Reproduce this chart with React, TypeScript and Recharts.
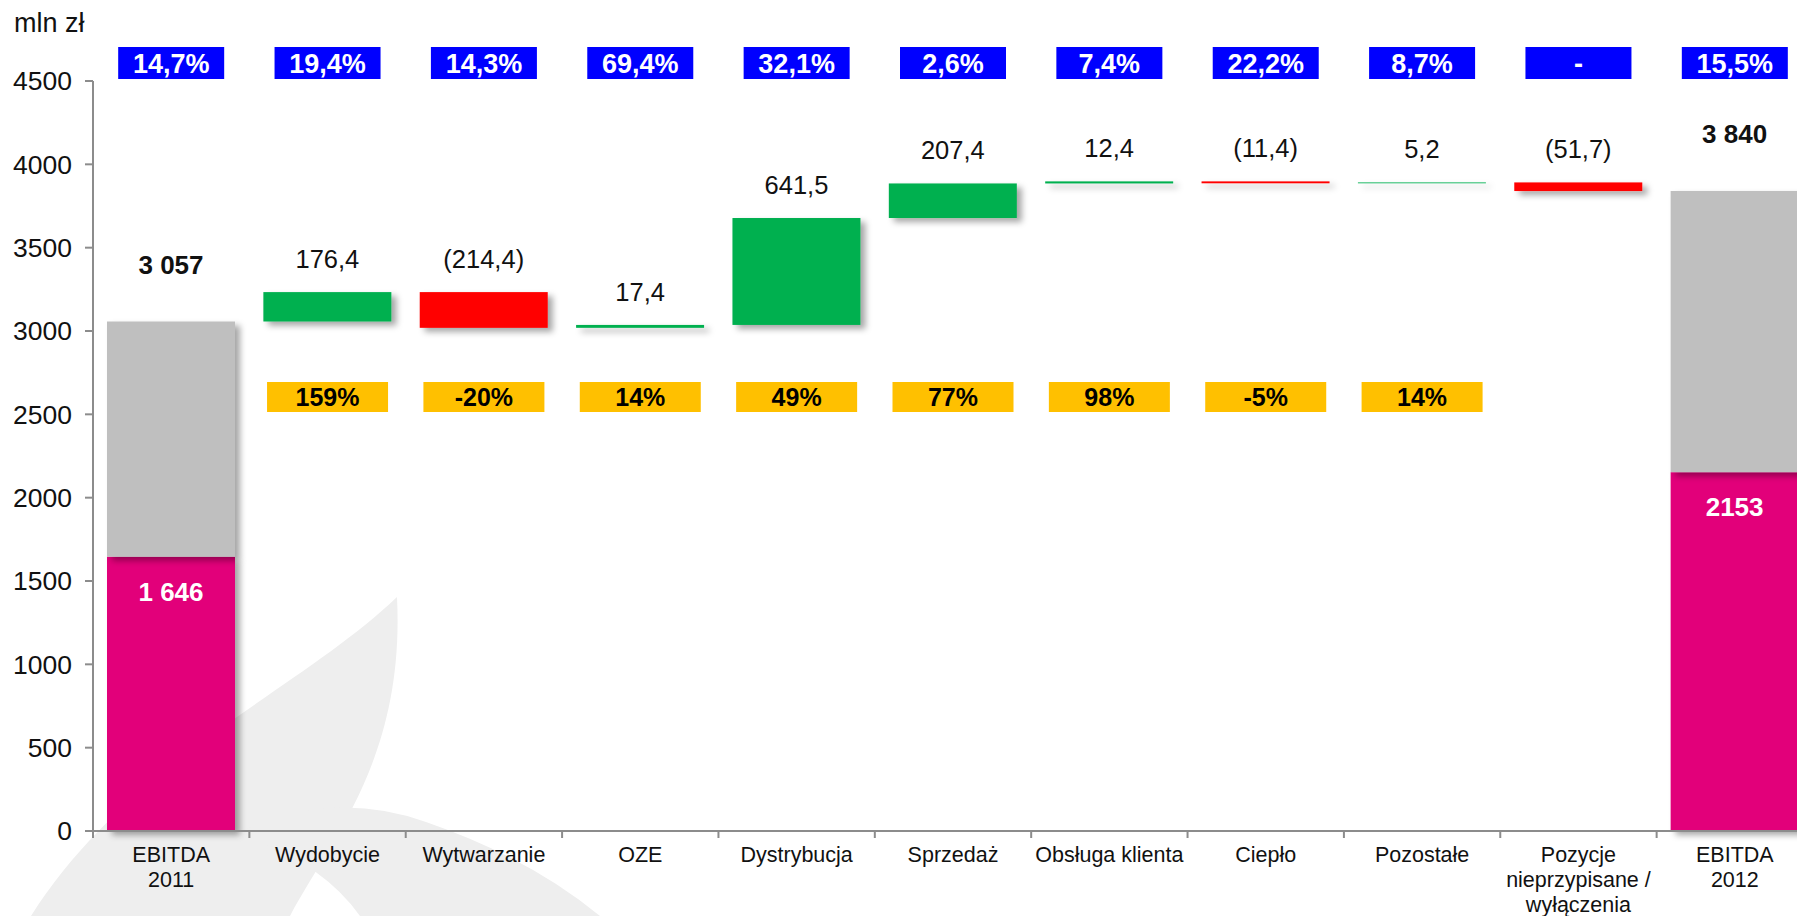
import React from 'react';
import { BarChart, Bar, XAxis, YAxis, ReferenceDot, LabelList } from 'recharts';

// categories and values
const categories = [
  'EBITDA\n2011',
  'Wydobycie',
  'Wytwarzanie',
  'OZE',
  'Dystrybucja',
  'Sprzedaż',
  'Obsługa klienta',
  'Ciepło',
  'Pozostałe',
  'Pozycje\nnieprzypisane /\nwyłączenia',
  'EBITDA\n2012',
];
const totals = [3057, null, null, null, null, null, null, null, null, null, 3840];
const totalLabels = ['3 057', null, null, null, null, null, null, null, null, null, '3 840'];
const pinkPart = [1646, null, null, null, null, null, null, null, null, null, 2153];
const pinkLabels = ['1 646', null, null, null, null, null, null, null, null, null, '2153'];
const deltas = [null, 176.4, -214.4, 17.4, 641.5, 207.4, 12.4, -11.4, 5.2, -51.7, null];
const marginLabels = ['14,7%', '19,4%', '14,3%', '69,4%', '32,1%', '2,6%', '7,4%', '22,2%', '8,7%', '-', '15,5%'];
const dynamicsLabels = [null, '159%', '-20%', '14%', '49%', '77%', '98%', '-5%', '14%', null, null];
const yTicks = [0, 500, 1000, 1500, 2000, 2500, 3000, 3500, 4000, 4500];

const FONT = '"Liberation Sans", Arial, sans-serif';
const AXIS = '#8c8c8c';
const GREEN = '#00B050';
const RED = '#FF0000';
const GREY = '#BFBFBF';
const PINK = '#E2007A';
const BLUE = '#0000FF';
const YELLOW = '#FFC000';

// rows of the waterfall: invisible base + visible parts
let running = 0;
const rows = categories.map((name, i) => {
  if (totals[i] != null) {
    running = totals[i] as number;
    const pink = pinkPart[i] as number;
    return { name, base: 0, pink, grey: running - pink, delta: 0, color: GREY };
  }
  const d = deltas[i] as number;
  const start = running;
  running = start + d;
  return {
    name,
    base: Math.min(start, running),
    pink: 0,
    grey: 0,
    delta: Math.abs(d),
    color: d >= 0 ? GREEN : RED,
  };
});

const fmtDelta = (v: number) => {
  const s = Math.abs(v).toFixed(1).replace('.', ',');
  return v < 0 ? `(${s})` : s;
};

const ShadowRect = (p: any) => {
  if (!p.height || p.height <= 0) return null;
  return (
    <rect
      x={p.x}
      y={p.y}
      width={p.width}
      height={p.height}
      fill={p.fillColor ?? p.payload.color}
      filter="url(#barShadow)"
    />
  );
};

const CategoryTick = (props: any) => {
  const { x, y, payload } = props;
  const half = payload.offset || 78;
  const lines = String(payload.value).split('\n');
  return (
    <g>
      <line x1={x - half} x2={x - half} y1={y} y2={y + 7} stroke={AXIS} strokeWidth={2} />
      <text x={x} y={y + 31} textAnchor="middle" fontSize={21.5} fontFamily={FONT} fill="#111">
        {lines.map((l, i) => (
          <tspan key={i} x={x} dy={i === 0 ? 0 : 25}>
            {l}
          </tspan>
        ))}
      </text>
    </g>
  );
};

const boxShape = (text: string, w: number, h: number, bg: string, fg: string, size: number) => (p: any) => (
  <g>
    <rect x={p.cx - w / 2} y={p.cy - h / 2} width={w} height={h} fill={bg} />
    <text
      x={p.cx}
      y={p.cy + size * 0.36}
      textAnchor="middle"
      fontSize={size}
      fontWeight="bold"
      fontFamily={FONT}
      fill={fg}
    >
      {text}
    </text>
  </g>
);

const BLUE_ROW = 4608;
const YELLOW_ROW = 2604;

export default function App() {
  return (
    <div
      style={{
        position: 'absolute',
        left: 0,
        top: 0,
        width: 1797,
        height: 916,
        overflow: 'hidden',
        background: '#fff',
      }}
    >
      <svg width={1797} height={916} style={{ position: 'absolute', left: 0, top: 0 }}>
        <defs>
          <filter id="barShadow" filterUnits="userSpaceOnUse" x={0} y={0} width={1900} height={916}>
            <feDropShadow dx={5} dy={4} stdDeviation={3} floodColor="#000" floodOpacity={0.35} />
          </filter>
        </defs>
        <path d="M 397 597 C 300 690, 130 760, 31 916 L 290 916 C 330 840, 405 760, 397 597 Z" fill="#eeeeee" />
        <path d="M 236 834 Q 330 788 426 822 Q 530 858 600 916 L 360 916 Q 320 860 236 834 Z" fill="#eeeeee" />
        <text x={14} y={32} fontSize={27} fontFamily={FONT} fill="#111">
          mln zł
        </text>
      </svg>
      <div style={{ position: 'absolute', left: 0, top: 0 }}>
        <BarChart
          width={1820}
          height={916}
          data={rows}
          margin={{ top: 81, right: 7, bottom: 25, left: 0 }}
          style={{ fontFamily: FONT }}
        >
          <XAxis
            dataKey="name"
            interval={0}
            tickLine={false}
            tickSize={0}
            tickMargin={0}
            height={60}
            axisLine={{ stroke: AXIS, strokeWidth: 2 }}
            tick={<CategoryTick />}
          />
          <YAxis
            type="number"
            domain={[0, 4500]}
            ticks={yTicks}
            width={93}
            tickSize={8}
            tickMargin={13}
            axisLine={{ stroke: AXIS, strokeWidth: 2 }}
            tickLine={{ stroke: AXIS, strokeWidth: 2 }}
            tick={{ fill: '#111', fontSize: 26.5, fontFamily: FONT }}
          />
          <Bar dataKey="base" stackId="w" fill="transparent" barSize={128} isAnimationActive={false} />
          <Bar
            dataKey="pink"
            stackId="w"
            barSize={128}
            isAnimationActive={false}
            shape={(p: any) => <ShadowRect {...p} fillColor={PINK} />}
          >
            <LabelList
              dataKey="pink"
              content={(p: any) => {
                const t = pinkLabels[p.index];
                if (!t) return null;
                return (
                  <text
                    x={p.x + p.width / 2}
                    y={p.y + 44}
                    textAnchor="middle"
                    fontSize={26}
                    fontWeight="bold"
                    fontFamily={FONT}
                    fill="#fff"
                  >
                    {t}
                  </text>
                );
              }}
            />
          </Bar>
          <Bar
            dataKey="grey"
            stackId="w"
            barSize={128}
            isAnimationActive={false}
            shape={(p: any) => <ShadowRect {...p} fillColor={GREY} />}
          >
            <LabelList
              dataKey="grey"
              content={(p: any) => {
                const t = totalLabels[p.index];
                if (!t) return null;
                return (
                  <text
                    x={p.x + p.width / 2}
                    y={p.y - 48}
                    textAnchor="middle"
                    fontSize={26}
                    fontWeight="bold"
                    fontFamily={FONT}
                    fill="#111"
                  >
                    {t}
                  </text>
                );
              }}
            />
          </Bar>
          <Bar dataKey="delta" stackId="w" barSize={128} isAnimationActive={false} shape={ShadowRect}>
            <LabelList
              dataKey="delta"
              content={(p: any) => {
                const d = deltas[p.index];
                if (d == null) return null;
                return (
                  <text
                    x={p.x + p.width / 2}
                    y={p.y - 24}
                    textAnchor="middle"
                    fontSize={25.5}
                    fontFamily={FONT}
                    fill="#111"
                  >
                    {fmtDelta(d)}
                  </text>
                );
              }}
            />
          </Bar>
          {marginLabels.map((t, i) => (
            <ReferenceDot
              key={`m${i}`}
              x={categories[i]}
              y={BLUE_ROW}
              ifOverflow="visible"
              shape={boxShape(t, 106, 32, BLUE, '#fff', 27)}
            />
          ))}
          {dynamicsLabels.map((t, i) =>
            t ? (
              <ReferenceDot
                key={`d${i}`}
                x={categories[i]}
                y={YELLOW_ROW}
                ifOverflow="visible"
                shape={boxShape(t, 121, 30, YELLOW, '#000', 25)}
              />
            ) : null
          )}
        </BarChart>
      </div>
    </div>
  );
}
